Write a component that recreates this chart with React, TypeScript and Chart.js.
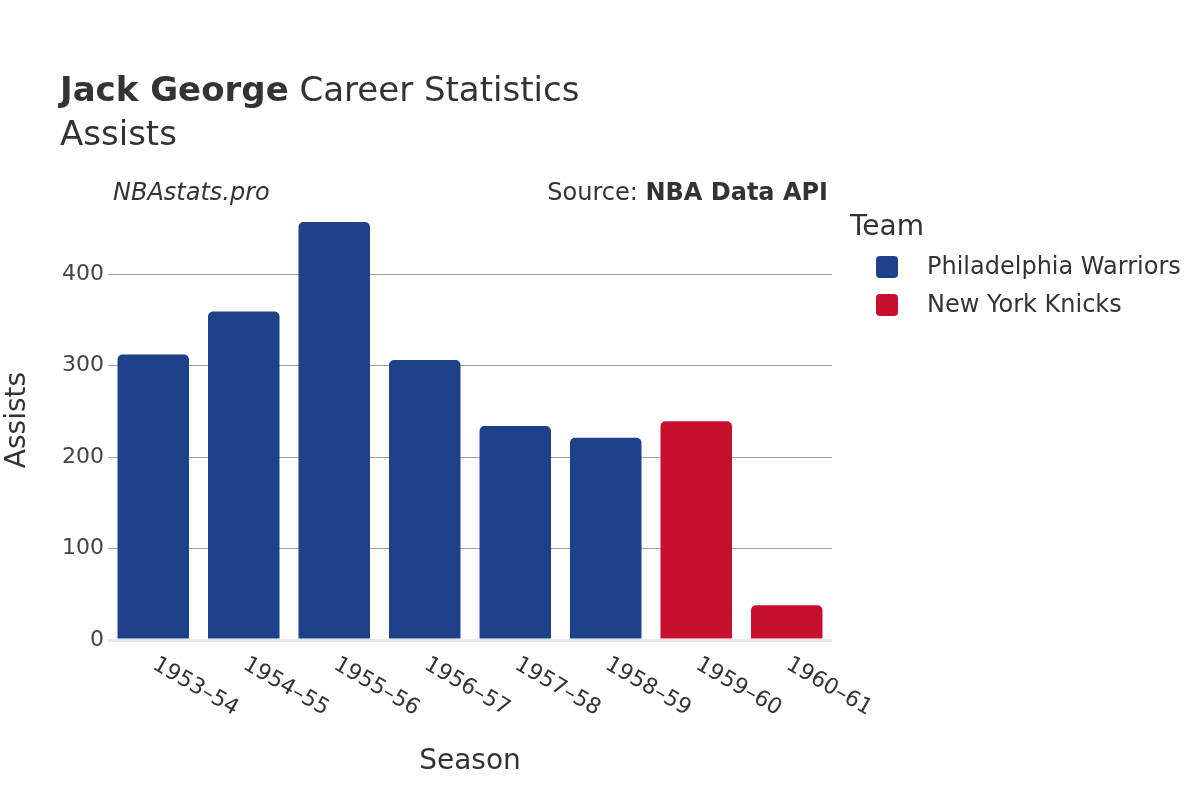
import React, { useEffect, useRef } from "react";
import { Chart, registerables } from "chart.js";

Chart.register(...registerables);

const seasons = ["1953–54", "1954–55", "1955–56", "1956–57", "1957–58", "1958–59", "1959–60", "1960–61"];
const warriorsAssists = [312, 359, 457, 306, 234, 221, null, null];
const knicksAssists = [null, null, null, null, null, null, 239, 38];
const yTicks = [0, 100, 200, 300, 400];
const teams = ["Philadelphia Warriors", "New York Knicks"];
const teamColors = ["#1d428a", "#c8102e"];

const FONT = '"DejaVu Sans", sans-serif';

const overlayPlugin = {
  id: "overlay",
  afterDraw(chart: any) {
    const ctx = chart.ctx;
    const xScale = chart.scales.x;
    ctx.save();
    ctx.fillStyle = "#333";
    ctx.textBaseline = "alphabetic";
    ctx.textAlign = "left";
    // Title
    ctx.font = `bold 34px ${FONT}`;
    const bold = "Jack George";
    ctx.fillText(bold, 60, 101);
    const bw = ctx.measureText(bold).width;
    ctx.font = `34px ${FONT}`;
    ctx.fillText(" Career Statistics", 60 + bw, 101);
    ctx.font = `34px ${FONT}`;
    ctx.fillText("Assists", 60, 145);
    // Annotations
    ctx.font = `italic 24px ${FONT}`;
    ctx.textBaseline = "middle";
    ctx.fillText("NBAstats.pro", 113, 194);
    ctx.textAlign = "right";
    ctx.font = `bold 24px ${FONT}`;
    const src = "NBA Data API";
    ctx.fillText(src, 828, 194);
    const sw = ctx.measureText(src).width;
    ctx.font = `24px ${FONT}`;
    ctx.fillText("Source: ", 828 - sw, 194);
    // Axis titles
    ctx.textAlign = "center";
    ctx.font = `28px ${FONT}`;
    ctx.fillText("Season", 470, 762);
    ctx.save();
    ctx.translate(18, 420);
    ctx.rotate(-Math.PI / 2);
    ctx.fillText("Assists", 0, 0);
    ctx.restore();
    // X tick labels rotated
    ctx.font = `22px ${FONT}`;
    ctx.textAlign = "left";
    ctx.textBaseline = "middle";
    seasons.forEach((s, i) => {
      const x = xScale.getPixelForValue(i);
      ctx.save();
      ctx.translate(x + 1, 663);
      ctx.rotate(Math.PI / 6);
      ctx.fillText(s, 0, 0);
      ctx.restore();
    });
    // Legend
    ctx.font = `28px ${FONT}`;
    ctx.textAlign = "left";
    ctx.fillText("Team", 850, 228);
    ctx.font = `24px ${FONT}`;
    teams.forEach((t, i) => {
      const y = 267 + i * 38;
      ctx.fillStyle = teamColors[i];
      ctx.beginPath();
      (ctx as any).roundRect(876, y - 11, 22, 22, 4);
      ctx.fill();
      ctx.fillStyle = "#333";
      ctx.fillText(t, 927, y + 1);
    });
    ctx.restore();
  },
};

export default function App() {
  const ref = useRef<HTMLCanvasElement>(null);
  useEffect(() => {
    if (!ref.current) return;
    const chart = new Chart(ref.current, {
      type: "bar",
      data: {
        labels: seasons,
        datasets: [
          {
            label: teams[0],
            data: warriorsAssists as any,
            backgroundColor: teamColors[0],
            borderRadius: 5,
            categoryPercentage: 1,
            barPercentage: 0.79,
          },
          {
            label: teams[1],
            data: knicksAssists as any,
            backgroundColor: teamColors[1],
            borderRadius: 5,
            categoryPercentage: 1,
            barPercentage: 0.79,
          },
        ],
      },
      options: {
        responsive: false,
        animation: false,
        layout: { padding: { top: 200, right: 368, bottom: 0, left: 0 } },
        plugins: { legend: { display: false }, tooltip: { enabled: false }, title: { display: false } },
        scales: {
          x: {
            stacked: true,
            grid: { display: false },
            border: { display: false },
            ticks: { display: false },
            afterFit: (scale: any) => {
              scale.height = 160;
            },
          },
          y: {
            stacked: true,
            min: 0,
            max: 481,
            border: { display: false },
            afterBuildTicks: (scale: any) => {
              scale.ticks = yTicks.map((v) => ({ value: v }));
            },
            afterFit: (scale: any) => {
              scale.width = 108;
            },
            grid: {
              drawTicks: false,
              color: (c: any) => (c.tick && c.tick.value === 0 ? "#e8e8e8" : "#a0a0a0"),
              lineWidth: (c: any) => (c.tick && c.tick.value === 0 ? 3 : 1),
            },
            ticks: {
              color: "#444",
              font: { family: FONT, size: 22 },
              padding: 4,
            },
          },
        },
      },
      plugins: [overlayPlugin],
    });
    return () => chart.destroy();
  }, []);
  return (
    <div style={{ position: "fixed", left: 0, top: 0, width: 1200, height: 800, background: "#fff" }}>
      <canvas ref={ref} width={1200} height={800} style={{ width: 1200, height: 800 }} />
    </div>
  );
}
